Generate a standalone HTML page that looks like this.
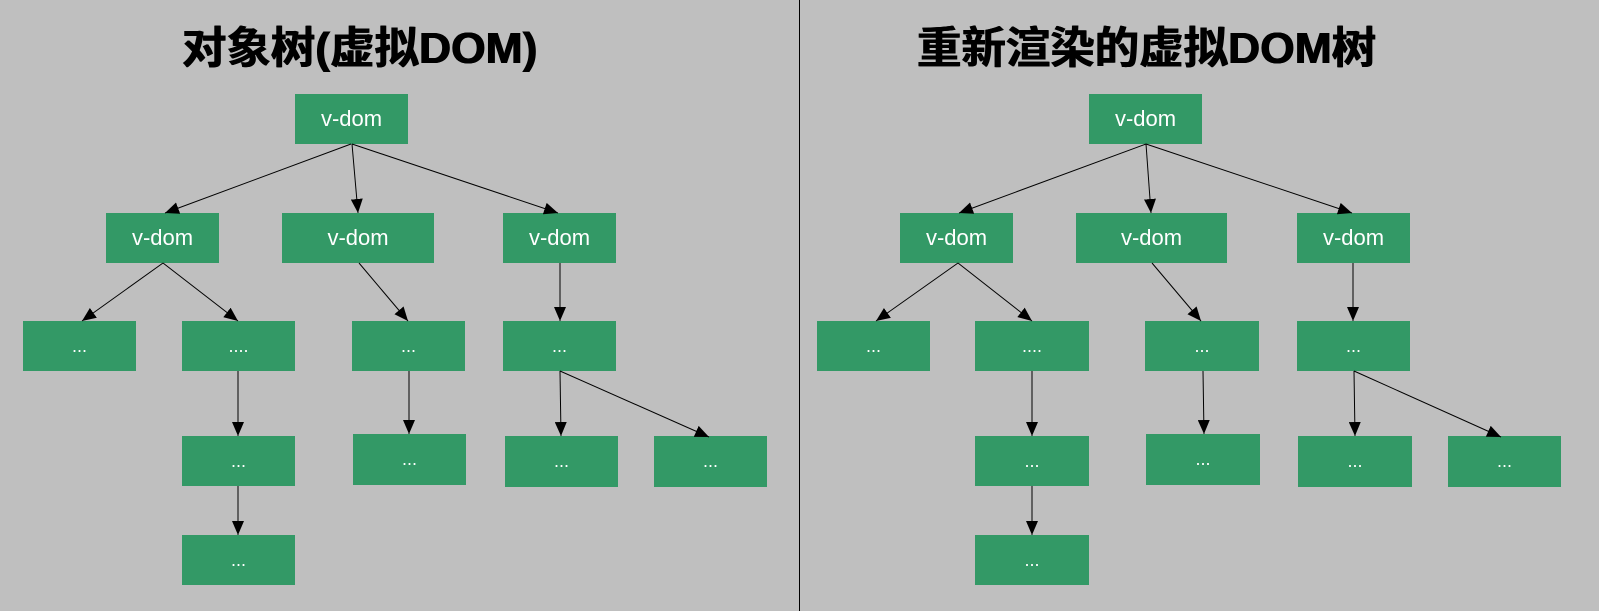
<!DOCTYPE html>
<html><head><meta charset="utf-8"><style>
body{margin:0;width:1599px;height:611px;background:#bfbfbf;overflow:hidden;position:relative;font-family:"Liberation Sans","Noto Sans CJK SC",sans-serif}
.b{position:absolute;background:#339966;color:#fff;display:flex;align-items:center;justify-content:center;font-size:22px}
.d{font-size:18px}
.t{position:absolute;top:12px;font-size:44px;font-weight:bold;color:#000;white-space:nowrap;font-family:"Liberation Sans","Noto Sans CJK SC",sans-serif;transform:scaleX(1.01);transform-origin:left top;text-shadow:0.6px 0 0 #000,-0.6px 0 0 #000}
svg{position:absolute;left:0;top:0}
</style></head><body>
<div class="t" style="left:182px">对象树(虚拟DOM)</div>
<div class="t" style="left:917px">重新渲染的虚拟DOM树</div>
<div style="position:absolute;left:799px;top:0;width:1px;height:611px;background:#000"></div>

<div class="b" style="left:295px;top:94px;width:113px;height:50px">v-dom</div>
<div class="b" style="left:106px;top:213px;width:113px;height:50px">v-dom</div>
<div class="b" style="left:282px;top:213px;width:152px;height:50px">v-dom</div>
<div class="b" style="left:503px;top:213px;width:113px;height:50px">v-dom</div>
<div class="b d" style="left:23px;top:321px;width:113px;height:50px">...</div>
<div class="b d" style="left:182px;top:321px;width:113px;height:50px">....</div>
<div class="b d" style="left:352px;top:321px;width:113px;height:50px">...</div>
<div class="b d" style="left:503px;top:321px;width:113px;height:50px">...</div>
<div class="b d" style="left:182px;top:436px;width:113px;height:50px">...</div>
<div class="b d" style="left:353px;top:434px;width:113px;height:51px">...</div>
<div class="b d" style="left:505px;top:436px;width:113px;height:51px">...</div>
<div class="b d" style="left:654px;top:436px;width:113px;height:51px">...</div>
<div class="b d" style="left:182px;top:535px;width:113px;height:50px">...</div>

<div class="b" style="left:1089px;top:94px;width:113px;height:50px">v-dom</div>
<div class="b" style="left:900px;top:213px;width:113px;height:50px">v-dom</div>
<div class="b" style="left:1076px;top:213px;width:151px;height:50px">v-dom</div>
<div class="b" style="left:1297px;top:213px;width:113px;height:50px">v-dom</div>
<div class="b d" style="left:817px;top:321px;width:113px;height:50px">...</div>
<div class="b d" style="left:975px;top:321px;width:114px;height:50px">....</div>
<div class="b d" style="left:1145px;top:321px;width:114px;height:50px">...</div>
<div class="b d" style="left:1297px;top:321px;width:113px;height:50px">...</div>
<div class="b d" style="left:975px;top:436px;width:114px;height:50px">...</div>
<div class="b d" style="left:1146px;top:434px;width:114px;height:51px">...</div>
<div class="b d" style="left:1298px;top:436px;width:114px;height:51px">...</div>
<div class="b d" style="left:1448px;top:436px;width:113px;height:51px">...</div>
<div class="b d" style="left:975px;top:535px;width:114px;height:50px">...</div>

<svg width="1599" height="611">
<defs><marker id="a" markerWidth="14" markerHeight="12" refX="14" refY="6" orient="auto" markerUnits="userSpaceOnUse"><path d="M0,0L14,6L0,12z" fill="#000"/></marker></defs>
<g stroke="#000" stroke-width="1" marker-end="url(#a)">
<line x1="351" y1="144" x2="165" y2="213"/>
<line x1="352" y1="144" x2="358" y2="213"/>
<line x1="352" y1="144" x2="558" y2="213"/>
<line x1="163" y1="263" x2="82" y2="321"/>
<line x1="163" y1="263" x2="238" y2="321"/>
<line x1="359" y1="263" x2="408" y2="321"/>
<line x1="560" y1="263" x2="560" y2="321"/>
<line x1="238" y1="371" x2="238" y2="436"/>
<line x1="238" y1="486" x2="238" y2="535"/>
<line x1="409" y1="371" x2="409" y2="434"/>
<line x1="560" y1="371" x2="561" y2="436"/>
<line x1="560" y1="371" x2="709" y2="437"/>

<line x1="1146" y1="144" x2="959" y2="213"/>
<line x1="1146" y1="144" x2="1151" y2="213"/>
<line x1="1146" y1="144" x2="1352" y2="213"/>
<line x1="958" y1="263" x2="876" y2="321"/>
<line x1="958" y1="263" x2="1032" y2="321"/>
<line x1="1152" y1="263" x2="1201" y2="321"/>
<line x1="1353" y1="263" x2="1353" y2="321"/>
<line x1="1032" y1="371" x2="1032" y2="436"/>
<line x1="1032" y1="486" x2="1032" y2="535"/>
<line x1="1203" y1="371" x2="1204" y2="434"/>
<line x1="1354" y1="371" x2="1355" y2="436"/>
<line x1="1354" y1="371" x2="1501" y2="437"/>
</g></svg>
</body></html>
